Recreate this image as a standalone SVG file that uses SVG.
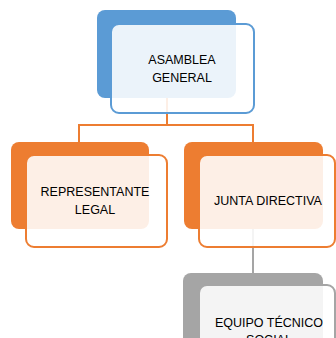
<svg xmlns="http://www.w3.org/2000/svg" width="336" height="338" viewBox="0 0 336 338">
<style>
.bk{stroke:none}
.fr{fill:#ffffff;fill-opacity:0.88;stroke-width:2}
.t{font-family:"Liberation Sans",Arial,sans-serif;font-size:12.5px;fill:#000;text-anchor:middle}
.c{fill:none;stroke-width:2}
</style>
<rect width="336" height="338" fill="#ffffff"/>
<g id="connectors">
<path class="c" stroke="#ED7D31" d="M167,98 V125 M79,142 V125 H253 V142"/>
<path class="c" stroke="#A5A5A5" d="M253,229 V273"/>
</g>
<g id="asamblea">
<rect class="bk" x="97" y="10" width="139" height="88" rx="8" fill="#5B9BD5"/>
<rect class="fr" x="111" y="24" width="143" height="89" rx="8" stroke="#5B9BD5"/>
<text class="t" x="182" y="64">ASAMBLEA</text>
<text class="t" x="182" y="82">GENERAL</text>
</g>
<g id="representante">
<rect class="bk" x="11" y="142" width="138" height="87" rx="8" fill="#ED7D31"/>
<rect class="fr" x="26" y="155" width="141" height="92" rx="8" stroke="#ED7D31"/>
<text class="t" x="95" y="196">REPRESENTANTE</text>
<text class="t" x="95" y="214">LEGAL</text>
</g>
<g id="junta">
<rect class="bk" x="184" y="142" width="139" height="87" rx="8" fill="#ED7D31"/>
<rect class="fr" x="199" y="155" width="136" height="92" rx="8" stroke="#ED7D31"/>
<text class="t" x="268" y="205">JUNTA DIRECTIVA</text>
</g>
<g id="equipo">
<rect class="bk" x="183" y="273" width="140" height="87" rx="8" fill="#A5A5A5"/>
<rect class="fr" x="199" y="285" width="136" height="92" rx="8" stroke="#A5A5A5"/>
<text class="t" x="269" y="327">EQUIPO TÉCNICO</text>
<text class="t" x="269" y="344">SOCIAL</text>
</g>
</svg>
